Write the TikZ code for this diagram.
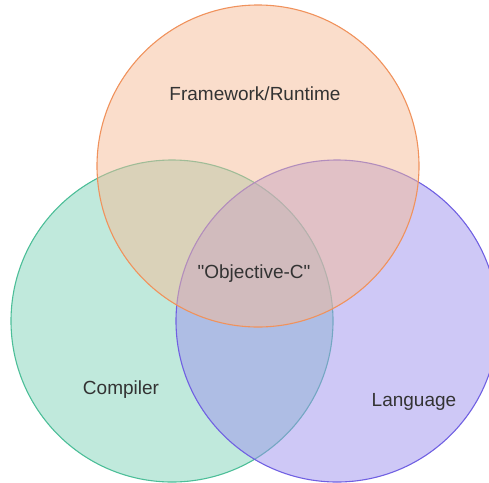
\documentclass[tikz,border=0pt]{standalone}
\usepackage{fontspec}
\setmainfont{Liberation Sans}

\definecolor{runtimefill}{RGB}{245,187,151}
\definecolor{runtimeline}{RGB}{240,146,92}
\definecolor{compilerfill}{RGB}{129,211,185}
\definecolor{compilerline}{RGB}{76,190,152}
\definecolor{languagefill}{RGB}{157,145,237}
\definecolor{languageline}{RGB}{112,96,226}
\definecolor{labeltext}{RGB}{51,51,51}

\begin{document}
\begin{tikzpicture}[x=1pt, y=-1pt,
    setcircle/.style={circle, minimum size=322pt, inner sep=0pt, line width=1.1pt, fill opacity=0.5},
    setlabel/.style={text=labeltext, font=\fontsize{19}{22}\selectfont}]
    \useasboundingbox (0,0) rectangle (489,482);
    \clip (0,0) rectangle (489,482);

    % the three sets, lowest first
    \foreach \name/\cx/\cy in {compiler/172/321, language/337/321, runtime/258/166}
    \node[setcircle, draw=\name line, fill=\name fill] (\name) at (\cx,\cy) {};

    \node[setlabel] (runtimelabel) at (255,94) {Framework/Runtime};
    \node[setlabel] (compilerlabel) at (121,390) {Compiler};
    \node[setlabel] (languagelabel) at (414,402) {Language};
    \node[setlabel] (objclabel) at (254,274) {\textquotedbl Objective-C\textquotedbl};
\end{tikzpicture}
\end{document}
